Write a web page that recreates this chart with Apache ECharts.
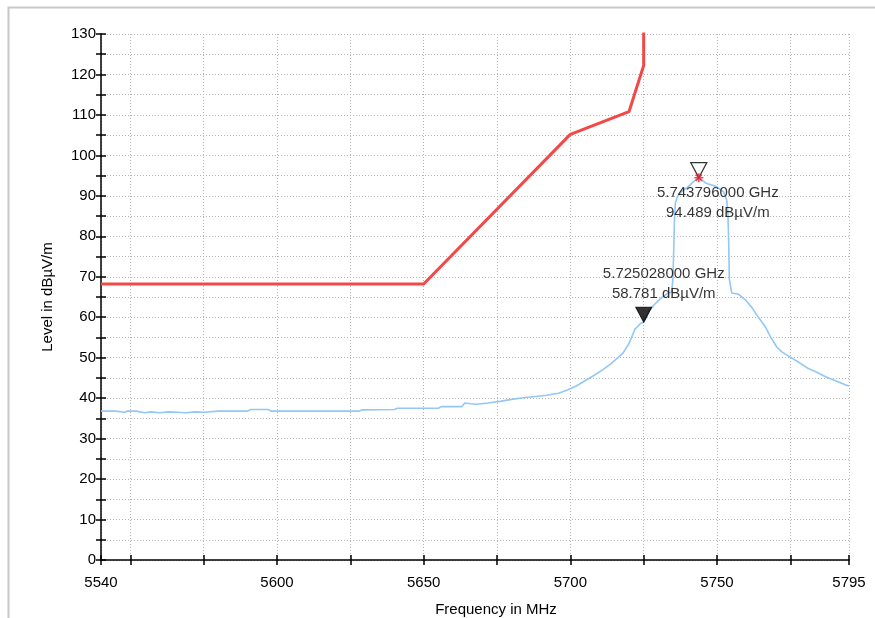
<!DOCTYPE html>
<html>
<head>
<meta charset="utf-8">
<script src="https://cdn.jsdelivr.net/npm/echarts@6/dist/echarts.min.js"></script>
<style>html,body{margin:0;padding:0;background:#fff;}#c{width:875px;height:618px;}</style>
</head>
<body>
<div id="c"></div>
<script>
// ---- data ----
const limitFreq = [5540, 5650, 5700, 5720, 5725, 5725];
const limitLevel = [68.2, 68.2, 105.2, 110.8, 122.2, 131];

const traceFreq = [5540, 5545, 5548, 5549, 5552, 5555, 5557, 5560, 5563, 5566, 5569, 5572, 5575, 5580, 5585, 5590, 5591, 5597, 5598, 5610, 5620, 5628, 5629, 5640, 5641, 5655, 5656, 5663, 5664, 5666, 5668, 5672, 5676, 5680, 5684, 5688, 5692, 5696, 5699, 5702, 5705, 5708, 5711, 5714, 5716.5, 5718, 5720, 5722, 5724, 5725.03, 5727, 5729, 5731, 5733, 5734.6, 5735.0, 5735.3, 5735.5, 5735.8, 5736.5, 5737.8, 5740.2, 5742, 5743.8, 5746.3, 5749.8, 5752.2, 5753.3, 5753.7, 5754.0, 5754.2, 5755, 5757.3, 5759.7, 5762, 5764, 5766.5, 5768.2, 5770.3, 5772, 5774.4, 5778, 5781, 5784, 5787, 5790, 5793.7, 5795];
const traceLevel = [36.8, 36.8, 36.5, 36.8, 36.8, 36.4, 36.6, 36.4, 36.6, 36.5, 36.4, 36.6, 36.5, 36.8, 36.8, 36.8, 37.2, 37.2, 36.8, 36.8, 36.8, 36.8, 37.1, 37.2, 37.5, 37.5, 37.9, 37.9, 38.8, 38.6, 38.5, 38.8, 39.2, 39.7, 40.1, 40.4, 40.7, 41.2, 42.0, 43.0, 44.3, 45.6, 47.0, 48.6, 50.2, 51.2, 53.5, 57.0, 58.5, 58.78, 61.8, 63.4, 64.8, 65.8, 66.3, 70, 78, 84, 88.2, 89.8, 91.0, 92.3, 93.5, 94.49, 93.1, 92.3, 91.0, 89.0, 86, 78.3, 69.5, 66.0, 65.7, 64.3, 62.3, 60.1, 57.6, 55.2, 52.7, 51.5, 50.4, 48.8, 47.4, 46.4, 45.3, 44.4, 43.3, 43.0];

const markerFreq = [5725.028, 5743.796];
const markerLevel = [58.781, 94.489];
const markerText = ['5.725028000 GHz\n58.781 dBµV/m', '5.743796000 GHz\n94.489 dBµV/m'];

const xTickValues = [5540, 5550, 5575, 5600, 5625, 5650, 5675, 5700, 5725, 5750, 5775, 5795];
const xLabelValues = [5540, 5600, 5650, 5700, 5750, 5795];
const yLabelStep = 10;

// ---- chart ----
const zip = (a, b) => a.map((v, i) => [v, b[i]]);
const FONT = "'Liberation Sans', Arial, sans-serif";
const chart = echarts.init(document.getElementById('c'), null, {renderer: 'canvas'});

const xBase = {
  type: 'value', min: 5540, max: 5795, position: 'bottom'
};
const yBase = {
  type: 'value', min: 0, max: 130, interval: 5, position: 'left'
};
const gridLine = {show: true, lineStyle: {color: '#b4b4b4', type: [1, 2], width: 1}};

chart.setOption({
  animation: false,
  backgroundColor: '#fff',
  graphic: [{
    type: 'rect', left: 6, top: 5, shape: {width: 900, height: 700},
    style: {fill: 'none', stroke: '#c8c8c8', lineWidth: 2}, silent: true, z: -10
  }],
  grid: {left: 101, right: 26, top: 34, bottom: 58, containLabel: false, outerBoundsMode: 'none'},
  xAxis: [
    Object.assign({}, xBase, {
      name: 'Frequency in MHz', nameLocation: 'middle', nameGap: 42,
      nameTextStyle: {fontFamily: FONT, fontSize: 15, color: '#000', padding: [0, 0, 0, 42]},
      axisLine: {show: true, lineStyle: {color: '#000', width: 1.5}},
      axisTick: {show: true, inside: false, length: 5, customValues: xTickValues, lineStyle: {color: '#000', width: 1.5}},
      axisLabel: {show: true, customValues: xLabelValues, margin: 15, fontFamily: FONT, fontSize: 15, color: '#000',
        showMinLabel: true, showMaxLabel: true, formatter: v => String(v)},
      splitLine: gridLine
    }),
    Object.assign({}, xBase, {
      axisLine: {show: false},
      axisTick: {show: true, inside: true, length: 5, customValues: xTickValues, lineStyle: {color: '#000', width: 1.5}},
      axisLabel: {show: false},
      splitLine: {show: false}
    })
  ],
  yAxis: [
    Object.assign({}, yBase, {
      name: 'Level in dBµV/m', nameLocation: 'middle', nameGap: 46,
      nameTextStyle: {fontFamily: FONT, fontSize: 15, color: '#000'},
      axisLine: {show: true, lineStyle: {color: '#000', width: 1.5}},
      axisTick: {show: true, inside: false, length: 5, lineStyle: {color: '#000', width: 1.5}},
      axisLabel: {show: true, margin: 5, fontFamily: FONT, fontSize: 15, color: '#000',
        formatter: v => (v % yLabelStep === 0 ? String(v) : '')},
      splitLine: gridLine
    }),
    Object.assign({}, yBase, {
      axisLine: {show: false},
      axisTick: {show: true, inside: true, length: 5, lineStyle: {color: '#000', width: 1.5}},
      axisLabel: {show: false},
      splitLine: {show: false}
    })
  ],
  series: [
    {
      name: 'Limit', type: 'line', xAxisIndex: 0, yAxisIndex: 0,
      data: zip(limitFreq, limitLevel), showSymbol: false, symbol: 'none',
      lineStyle: {color: '#f44848', width: 3}, z: 3, clip: true
    },
    {
      name: 'Trace', type: 'line', xAxisIndex: 0, yAxisIndex: 0,
      data: zip(traceFreq, traceLevel), showSymbol: false, symbol: 'none',
      lineStyle: {color: '#92c7f7', width: 1.6}, z: 4, clip: true
    },
    {
      name: 'Markers', type: 'scatter', xAxisIndex: 0, yAxisIndex: 0,
      data: [
        {value: [markerFreq[0], markerLevel[0]], itemStyle: {color: '#000', borderColor: '#000', borderWidth: 1}},
        {value: [markerFreq[1], markerLevel[1]], itemStyle: {color: '#fff', borderColor: '#000', borderWidth: 1.3}}
      ],
      symbol: 'triangle', symbolSize: [16, 15], symbolRotate: 180, symbolOffset: [0, '-50%'], z: 6
    },
    {
      name: 'PeakStar', type: 'scatter', xAxisIndex: 0, yAxisIndex: 0,
      data: [[markerFreq[1], markerLevel[1]]],
      symbol: 'path://M5,0L5,10M0,5L10,5M1.5,1.5L8.5,8.5M8.5,1.5L1.5,8.5', symbolSize: 9,
      itemStyle: {color: 'none', borderColor: '#e8202a', borderWidth: 1.6}, z: 7
    },
    {
      name: 'MarkerLabels', type: 'scatter', xAxisIndex: 0, yAxisIndex: 0,
      data: [
        {value: [markerFreq[0], markerLevel[0]], label: {offset: [20, -38]}},
        {value: [markerFreq[1], markerLevel[1]], label: {offset: [19, 25]}}
      ],
      symbolSize: 1, itemStyle: {color: 'rgba(0,0,0,0)'}, z: 8,
      label: {
        show: true, position: 'inside', align: 'center', verticalAlign: 'middle',
        fontFamily: FONT, fontSize: 15, color: '#000', lineHeight: 20,
        formatter: p => markerText[p.dataIndex]
      }
    }
  ]
});
</script>
</body>
</html>
